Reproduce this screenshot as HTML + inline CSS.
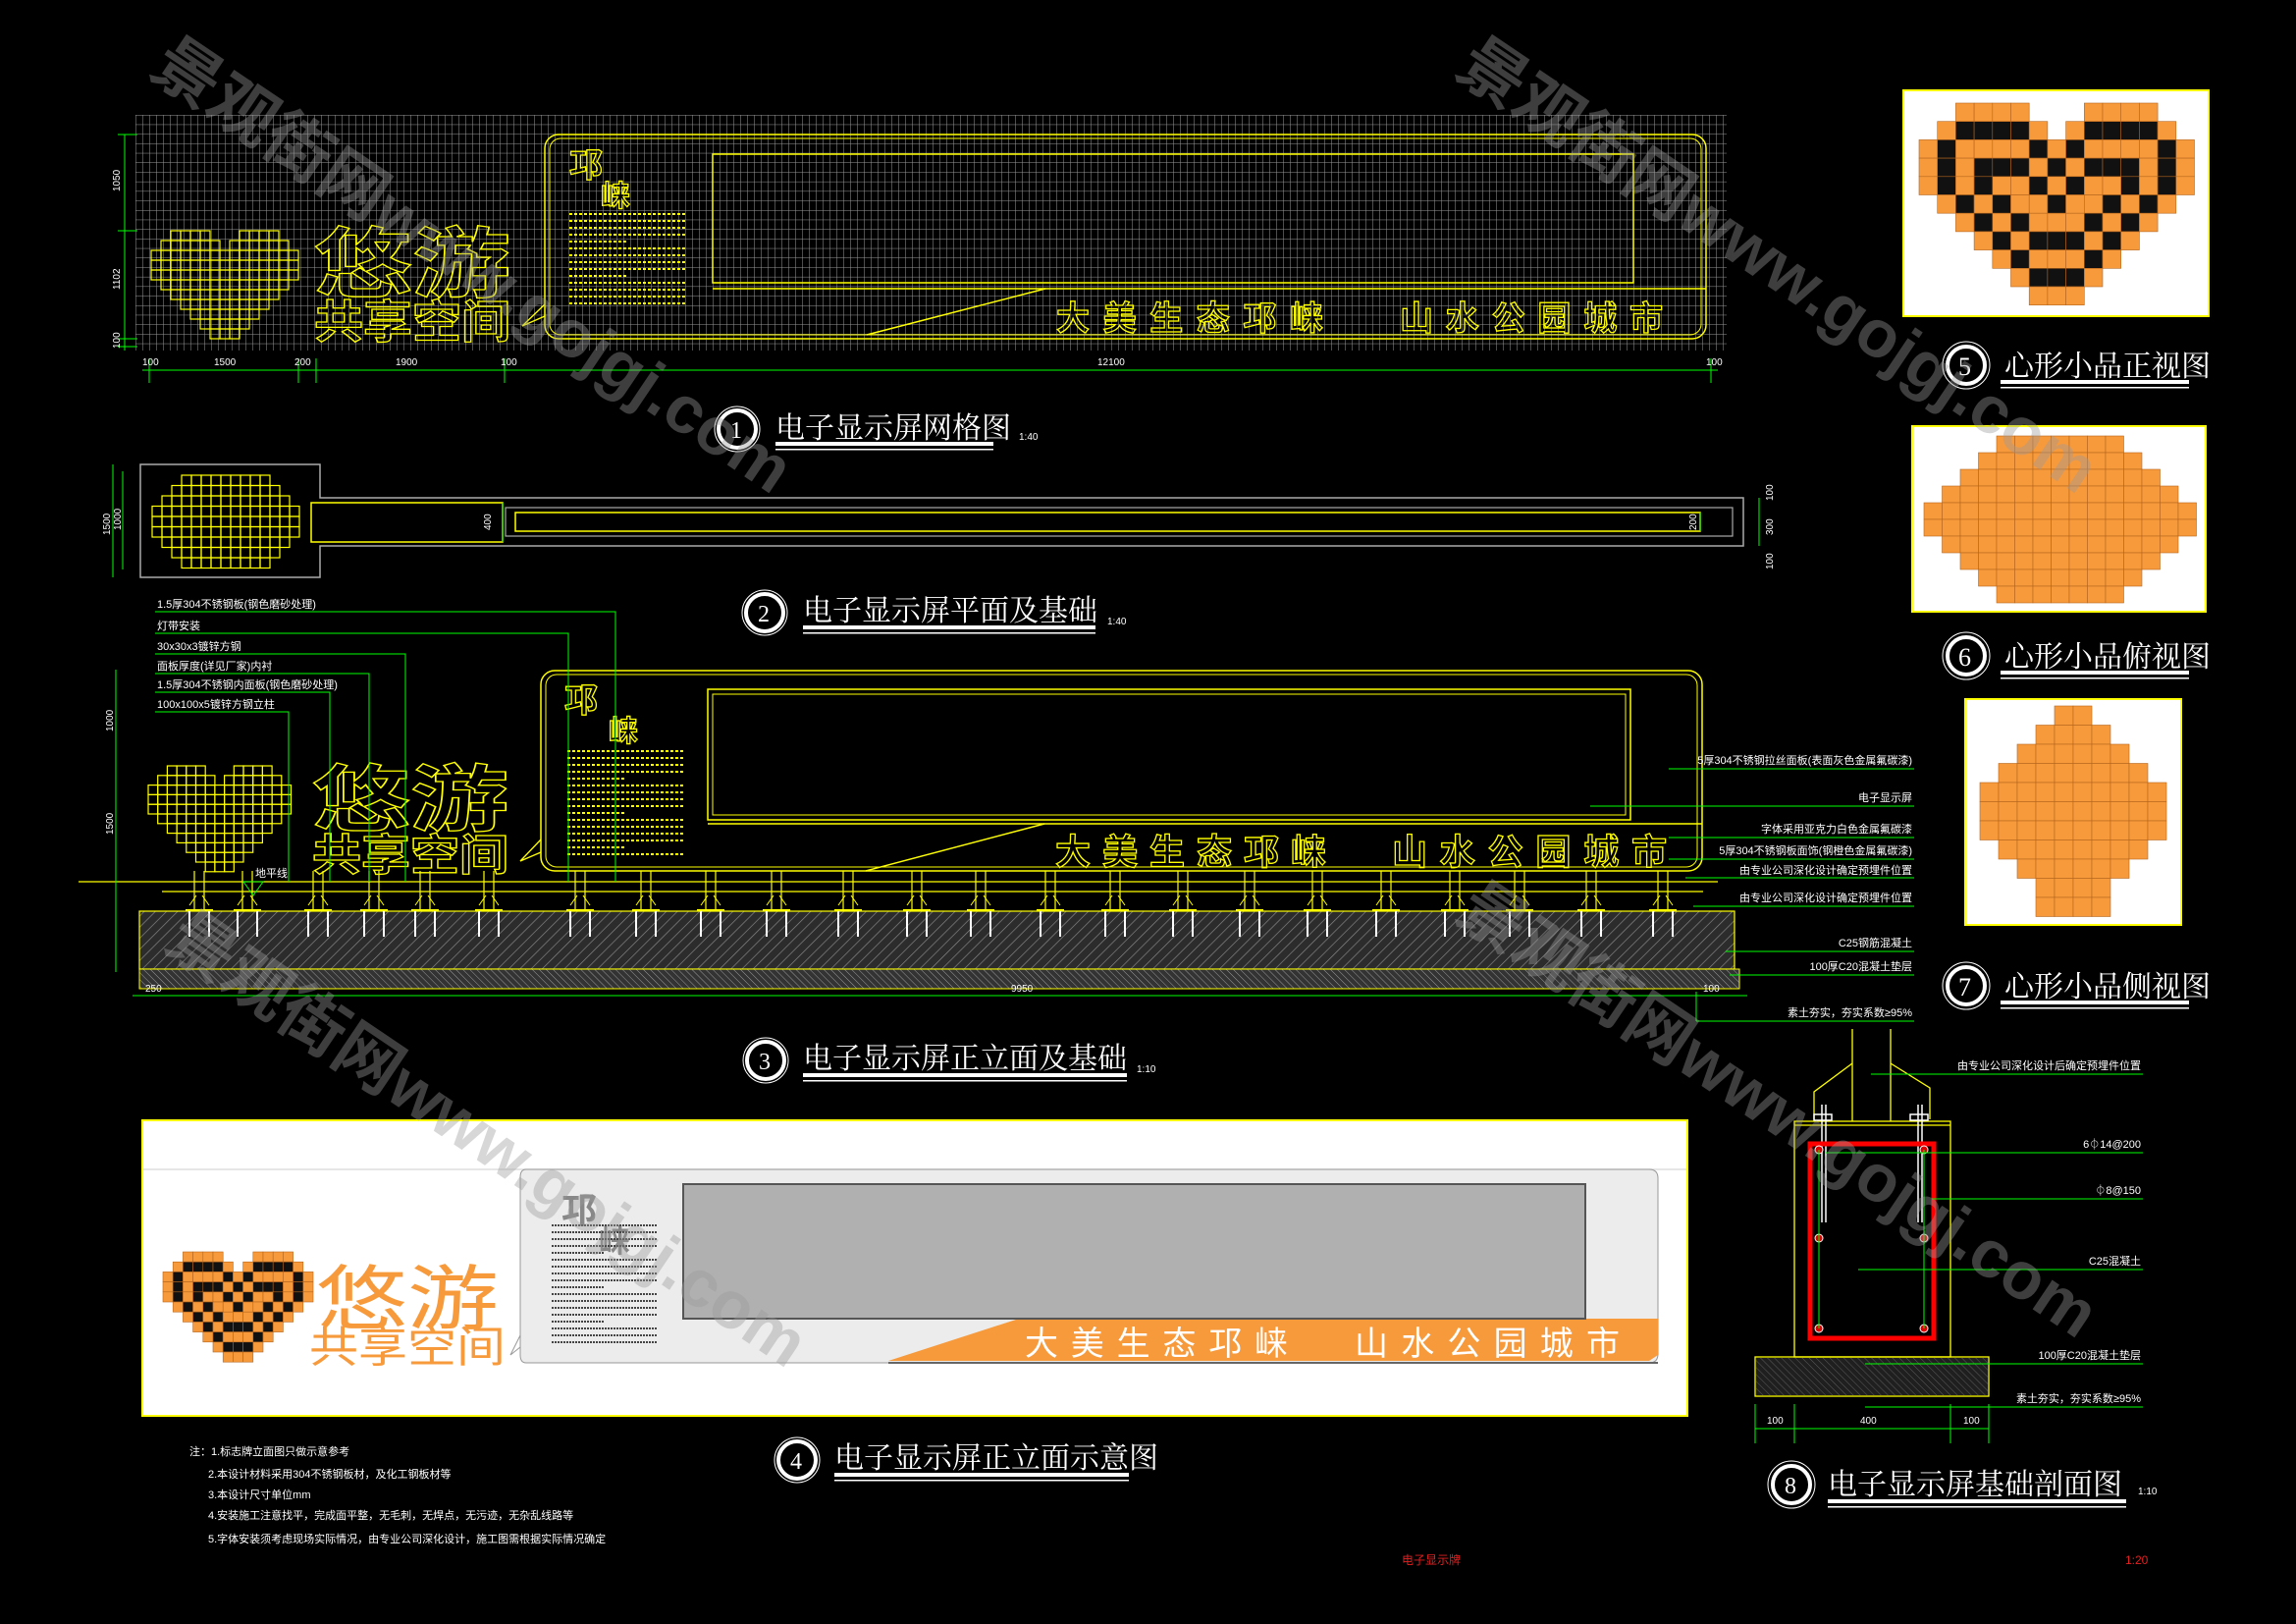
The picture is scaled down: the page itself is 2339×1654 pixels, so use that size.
<!DOCTYPE html>
<html><head><meta charset="utf-8">
<style>
html,body{margin:0;padding:0;background:#000;}
svg{display:block;}
.ot{fill:none;stroke:#ffff00;stroke-width:1.3;font-family:"Liberation Sans","Noto Sans CJK SC",sans-serif;font-weight:bold;}
.tt{fill:#fff;font-family:"Liberation Serif","Noto Serif CJK SC",serif;}
.sm{fill:#fff;font-family:"Liberation Sans","Noto Sans CJK SC",sans-serif;font-size:11px;}
.dim{fill:#fff;font-family:"Liberation Sans",sans-serif;font-size:10px;}
</style></head>
<body>
<svg id="s" width="2339" height="1654" viewBox="0 0 2339 1654" xmlns="http://www.w3.org/2000/svg">
<defs>
<pattern id="grid" width="7" height="9.7" patternUnits="userSpaceOnUse" x="138" y="117">
<path d="M0 0V9.7M0 0H7" stroke="#9a9a9a" stroke-width="1" fill="none"/>
</pattern>
<pattern id="hatch" width="8" height="8" patternUnits="userSpaceOnUse" patternTransform="rotate(45)">
<rect width="8" height="8" fill="#2c2c2c"/>
<path d="M0 0V8" stroke="#8a8a8a" stroke-width="1.3"/>
</pattern>
<pattern id="hatch2" width="5" height="5" patternUnits="userSpaceOnUse" patternTransform="rotate(-45)">
<rect width="5" height="5" fill="#333"/>
<path d="M0 0V5" stroke="#999" stroke-width="1"/>
</pattern>
</defs>
<rect width="2339" height="1654" fill="#000"/>

<!-- ===== Panel 1 grid ===== -->
<rect x="138" y="117" width="1621" height="240" fill="url(#grid)"/>
<rect x="555" y="137" width="1183" height="208" rx="14" fill="none" stroke="#ffff00" stroke-width="1.5"/>
<rect x="560" y="141" width="1173" height="200" rx="11" fill="none" stroke="#ffff00" stroke-width="1"/>
<rect x="726" y="157" width="938" height="131" fill="none" stroke="#ffff00" stroke-width="1.5"/>
<line x1="726" y1="294" x2="1738" y2="294" stroke="#ffff00" stroke-width="1.5"/>
<line x1="1065" y1="294" x2="883" y2="341" stroke="#ffff00" stroke-width="1.5"/>
<path d="M555 310 L532 332 L555 322" fill="none" stroke="#ffff00" stroke-width="1.3"/>
<text class="ot" x="580" y="180" font-size="34">邛</text><text class="ot" x="612" y="210" font-size="30">崃</text>
<g id="para1" stroke="#ffff00" stroke-width="2" stroke-dasharray="3 2"></g>
<g id="heart1"></g>
<text class="ot" x="320" y="296" font-size="78" textLength="200" lengthAdjust="spacingAndGlyphs">悠游</text>
<text class="ot" x="320" y="344" font-size="46" textLength="200" lengthAdjust="spacingAndGlyphs">共享空间</text>
<text class="ot" x="1076" y="336" font-size="34" textLength="272">大美生态邛崃</text>
<text class="ot" x="1426" y="336" font-size="34" textLength="268">山水公园城市</text>
<!-- dims -->
<line x1="127" y1="137" x2="127" y2="357" stroke="#00ff00"/>
<g stroke="#00ff00"><line x1="120" y1="137" x2="140" y2="137"/><line x1="120" y1="235" x2="140" y2="235"/><line x1="120" y1="345" x2="140" y2="345"/><line x1="120" y1="353" x2="140" y2="353"/></g>
<text class="dim" transform="translate(122,195) rotate(-90)">1050</text>
<text class="dim" transform="translate(122,295) rotate(-90)">1102</text>
<text class="dim" transform="translate(122,355) rotate(-90)">100</text>
<line x1="145" y1="377" x2="1750" y2="377" stroke="#00ff00"/>
<g stroke="#00ff00"><line x1="152" y1="365" x2="152" y2="390"/><line x1="304" y1="365" x2="304" y2="390"/><line x1="322" y1="365" x2="322" y2="390"/><line x1="514" y1="365" x2="514" y2="390"/><line x1="1743" y1="365" x2="1743" y2="390"/></g>
<g class="dim"><text x="145" y="372">100</text><text x="218" y="372">1500</text><text x="300" y="372">200</text><text x="403" y="372">1900</text><text x="510" y="372">100</text><text x="1118" y="372">12100</text><text x="1738" y="372">100</text></g>
<!-- title 1 -->
<circle cx="751" cy="437" r="19" fill="none" stroke="#fff" stroke-width="4"/><circle cx="751" cy="437" r="23" fill="none" stroke="#fff" stroke-width="1"/>
<text class="tt" x="744" y="446" font-size="24">1</text>
<text class="tt" x="790" y="446" font-size="30">电子显示屏网格图</text>
<rect x="790" y="450" width="222" height="4" fill="#fff"/><rect x="790" y="457" width="222" height="1.5" fill="#fff"/>
<text class="dim" x="1038" y="448">1:40</text>

<!-- ===== Panel 2 plan ===== -->
<path d="M143 473 H326 V507 H1776 V556 H326 V588 H143 Z" fill="none" stroke="#aaa" stroke-width="1.5"/>
<rect x="515" y="517" width="1250" height="29" fill="none" stroke="#aaa" stroke-width="1.2"/>
<rect x="525" y="522" width="1207" height="19" fill="none" stroke="#ffff00" stroke-width="1.5"/>
<rect x="317" y="512" width="195" height="40" fill="none" stroke="#ffff00" stroke-width="1.5"/>
<g id="heart2"></g>
<g stroke="#00ff00"><line x1="115" y1="473" x2="115" y2="588"/><line x1="125" y1="480" x2="125" y2="580"/><line x1="512" y1="512" x2="512" y2="552"/><line x1="1732" y1="522" x2="1732" y2="541"/><line x1="1792" y1="507" x2="1792" y2="556"/></g>
<text class="dim" transform="translate(112,545) rotate(-90)">1500</text>
<text class="dim" transform="translate(123,540) rotate(-90)">1000</text>
<text class="dim" transform="translate(500,540) rotate(-90)">400</text>
<text class="dim" transform="translate(1728,540) rotate(-90)">200</text>
<text class="dim" transform="translate(1806,510) rotate(-90)">100</text>
<text class="dim" transform="translate(1806,545) rotate(-90)">300</text>
<text class="dim" transform="translate(1806,580) rotate(-90)">100</text>
<circle cx="779" cy="624" r="19" fill="none" stroke="#fff" stroke-width="4"/><circle cx="779" cy="624" r="23" fill="none" stroke="#fff" stroke-width="1"/>
<text class="tt" x="772" y="633" font-size="24">2</text>
<text class="tt" x="818" y="632" font-size="30">电子显示屏平面及基础</text>
<rect x="818" y="637" width="298" height="4" fill="#fff"/><rect x="818" y="644" width="298" height="1.5" fill="#fff"/>
<text class="dim" x="1128" y="636">1:40</text>

<!-- ===== Panel 3 elevation ===== -->
<rect x="142" y="928" width="1625" height="59" fill="url(#hatch)" stroke="#ffff00" stroke-width="1.2"/>
<rect x="142" y="987" width="1630" height="20" fill="url(#hatch2)" stroke="#ffff00" stroke-width="1"/>
<line x1="80" y1="898" x2="1750" y2="898" stroke="#ffff00" stroke-width="1.3"/>
<line x1="165" y1="908" x2="1735" y2="908" stroke="#ffff00" stroke-width="1.3"/>
<g id="posts"></g>
<rect x="551" y="683" width="1183" height="204" rx="14" fill="none" stroke="#ffff00" stroke-width="1.5"/>
<rect x="556" y="687" width="1173" height="196" rx="11" fill="none" stroke="#ffff00" stroke-width="1"/>
<rect x="721" y="702" width="940" height="133" fill="none" stroke="#ffff00" stroke-width="1.5"/>
<rect x="726" y="707" width="930" height="123" fill="none" stroke="#ffff00" stroke-width="1"/>
<line x1="721" y1="839" x2="1734" y2="839" stroke="#ffff00" stroke-width="1.5"/>
<line x1="1064" y1="839" x2="882" y2="887" stroke="#ffff00" stroke-width="1.5"/>
<path d="M551 855 L530 877 L551 868" fill="none" stroke="#ffff00" stroke-width="1.3"/>
<text class="ot" x="575" y="725" font-size="34">邛</text><text class="ot" x="620" y="755" font-size="30">崃</text>
<g id="para3" stroke="#ffff00" stroke-width="2" stroke-dasharray="3 2"></g>
<g id="heart3"></g>
<text class="ot" x="318" y="840" font-size="74" textLength="200" lengthAdjust="spacingAndGlyphs">悠游</text>
<text class="ot" x="318" y="886" font-size="44" textLength="200" lengthAdjust="spacingAndGlyphs">共享空间</text>
<text class="ot" x="1075" y="880" font-size="36" textLength="276">大美生态邛崃</text>
<text class="ot" x="1418" y="880" font-size="36" textLength="280">山水公园城市</text>
<text class="sm" x="260" y="893" font-size="10">地平线</text>
<path d="M248 898 l10 14 l10 -14 z" fill="none" stroke="#00ff00"/>
<!-- left leaders -->
<g stroke="#00ff00" fill="none">
<path d="M158 623 H627 V898"/><path d="M158 645 H579 V898"/><path d="M158 666 H413 V898"/><path d="M158 686 H376 V898"/><path d="M158 705 H336 V898"/><path d="M158 725 H294 V898"/>
<line x1="118" y1="682" x2="118" y2="990"/>
</g>
<g class="sm" font-size="10">
<text x="160" y="619">1.5厚304不锈钢板(钢色磨砂处理)</text>
<text x="160" y="641">灯带安装</text>
<text x="160" y="662">30x30x3镀锌方钢</text>
<text x="160" y="682">面板厚度(详见厂家)内衬</text>
<text x="160" y="701">1.5厚304不锈钢内面板(钢色磨砂处理)</text>
<text x="160" y="721">100x100x5镀锌方钢立柱</text>
</g>
<text class="dim" transform="translate(115,745) rotate(-90)">1000</text>
<text class="dim" transform="translate(115,850) rotate(-90)">1500</text>
<!-- right leaders -->
<g stroke="#00ff00">
<line x1="1700" y1="783" x2="1950" y2="783"/><line x1="1620" y1="821" x2="1950" y2="821"/><line x1="1700" y1="853" x2="1950" y2="853"/><line x1="1700" y1="875" x2="1950" y2="875"/><line x1="1717" y1="894" x2="1950" y2="894"/><line x1="1725" y1="923" x2="1950" y2="923"/><line x1="1758" y1="969" x2="1950" y2="969"/><line x1="1762" y1="993" x2="1950" y2="993"/><line x1="1728" y1="1040" x2="1950" y2="1040"/><line x1="1728" y1="1010" x2="1728" y2="1040"/>
</g>
<g class="sm" font-size="11" text-anchor="end">
<text x="1948" y="778">5厚304不锈钢拉丝面板(表面灰色金属氟碳漆)</text>
<text x="1948" y="816">电子显示屏</text>
<text x="1948" y="848">字体采用亚克力白色金属氟碳漆</text>
<text x="1948" y="870">5厚304不锈钢板面饰(钢橙色金属氟碳漆)</text>
<text x="1948" y="890">由专业公司深化设计确定预埋件位置</text>
<text x="1948" y="918">由专业公司深化设计确定预埋件位置</text>
<text x="1948" y="964">C25钢筋混凝土</text>
<text x="1948" y="988">100厚C20混凝土垫层</text>
<text x="1948" y="1035">素土夯实，夯实系数≥95%</text>
</g>
<line x1="135" y1="1014" x2="1780" y2="1014" stroke="#00ff00"/>
<g class="dim"><text x="148" y="1010">250</text><text x="1030" y="1010">9950</text><text x="1735" y="1010">100</text></g>
<circle cx="780" cy="1080" r="19" fill="none" stroke="#fff" stroke-width="4"/><circle cx="780" cy="1080" r="23" fill="none" stroke="#fff" stroke-width="1"/>
<text class="tt" x="773" y="1089" font-size="24">3</text>
<text class="tt" x="818" y="1088" font-size="30">电子显示屏正立面及基础</text>
<rect x="818" y="1093" width="330" height="4" fill="#fff"/><rect x="818" y="1100" width="330" height="1.5" fill="#fff"/>
<text class="dim" x="1158" y="1092">1:10</text>

<!-- ===== Panel 4 ===== -->
<rect x="145" y="1141" width="1574" height="301" fill="#fff" stroke="#ffff00" stroke-width="2"/>
<line x1="146" y1="1191" x2="1718" y2="1191" stroke="#ddd" stroke-width="1.5"/>
<path d="M536 1191 H1680 Q1689 1191 1689 1200 V1379 Q1689 1388 1680 1388 H536 Q530 1388 530 1380 V1199 Q530 1191 536 1191 Z" fill="#ececec" stroke="#999" stroke-width="1"/>
<polygon points="1038,1343 1689,1343 1689,1380 1680,1386 905,1386" fill="#f79a3c"/>
<line x1="905" y1="1388" x2="1689" y2="1388" stroke="#666" stroke-width="2"/>
<rect x="696" y="1206" width="919" height="137" fill="#b0b0b0" stroke="#555" stroke-width="2"/>
<text x="1044" y="1380" font-size="34" fill="#fff" font-family="Liberation Sans,Noto Sans CJK SC,sans-serif" textLength="268">大美生态邛崃</text>
<text x="1380" y="1380" font-size="34" fill="#fff" font-family="Liberation Sans,Noto Sans CJK SC,sans-serif" textLength="270">山水公园城市</text>
<text x="572" y="1245" font-size="36" fill="#888" font-family="Liberation Sans,Noto Sans CJK SC,sans-serif" font-weight="bold">邛</text>
<text x="610" y="1275" font-size="32" fill="#888" font-family="Liberation Sans,Noto Sans CJK SC,sans-serif" font-weight="bold">崃</text>
<g id="para4" stroke="#444" stroke-width="2" stroke-dasharray="2 1"></g>
<g id="heart4"></g>
<text x="322" y="1348" font-size="72" fill="#f79a3c" font-family="Liberation Sans,Noto Sans CJK SC,sans-serif" textLength="186" lengthAdjust="spacingAndGlyphs">悠游</text>
<text x="315" y="1387" font-size="44" fill="#f79a3c" font-family="Liberation Sans,Noto Sans CJK SC,sans-serif" textLength="200" lengthAdjust="spacingAndGlyphs">共享空间</text>
<path d="M530 1360 L520 1380 L530 1372" fill="none" stroke="#999"/>
<!-- notes -->
<g class="sm" font-size="14">
<text x="193" y="1482">注：1.标志牌立面图只做示意参考</text>
<text x="212" y="1505">2.本设计材料采用304不锈钢板材，及化工钢板材等</text>
<text x="212" y="1526">3.本设计尺寸单位mm</text>
<text x="212" y="1547">4.安装施工注意找平，完成面平整，无毛刺，无焊点，无污迹，无杂乱线路等</text>
<text x="212" y="1571">5.字体安装须考虑现场实际情况，由专业公司深化设计，施工图需根据实际情况确定</text>
</g>
<circle cx="812" cy="1487" r="19" fill="none" stroke="#fff" stroke-width="4"/><circle cx="812" cy="1487" r="23" fill="none" stroke="#fff" stroke-width="1"/>
<text class="tt" x="805" y="1496" font-size="24">4</text>
<text class="tt" x="850" y="1495" font-size="30">电子显示屏正立面示意图</text>
<rect x="850" y="1500" width="300" height="4" fill="#fff"/><rect x="850" y="1507" width="300" height="1.5" fill="#fff"/>
<text x="1428" y="1593" font-size="12" fill="#e02020" font-family="Liberation Sans,Noto Sans CJK SC,sans-serif">电子显示牌</text>
<text x="2165" y="1593" font-size="12" fill="#e02020" font-family="Liberation Sans,sans-serif">1:20</text>

<!-- ===== Section 8 ===== -->
<g stroke="#ffff00" fill="none" stroke-width="1.3">
<line x1="1887" y1="1048" x2="1887" y2="1142"/><line x1="1926" y1="1048" x2="1926" y2="1142"/>
<path d="M1887 1083 L1848 1112 V1140"/><path d="M1926 1083 L1966 1108 V1140"/>
<rect x="1828" y="1142" width="159" height="240"/><line x1="1828" y1="1146" x2="1987" y2="1146"/>
<rect x="1788" y="1382" width="238" height="40"/>
</g>
<rect x="1789" y="1383" width="236" height="38" fill="url(#hatch2)" opacity="0.6"/>
<g stroke="#fff" stroke-width="1.5"><line x1="1856" y1="1125" x2="1856" y2="1245"/><line x1="1860" y1="1125" x2="1860" y2="1245"/><line x1="1954" y1="1125" x2="1954" y2="1245"/><line x1="1958" y1="1125" x2="1958" y2="1245"/>
<rect x="1848" y="1135" width="18" height="6" fill="none"/><rect x="1946" y="1135" width="18" height="6" fill="none"/></g>
<rect x="1844" y="1165" width="126" height="198" fill="none" stroke="#ff0000" stroke-width="5"/>
<g fill="#d00" stroke="#fff" stroke-width="1"><circle cx="1853" cy="1171" r="4"/><circle cx="1960" cy="1171" r="4"/><circle cx="1853" cy="1261" r="4"/><circle cx="1960" cy="1261" r="4"/><circle cx="1853" cy="1353" r="4"/><circle cx="1960" cy="1353" r="4"/></g>
<g stroke="#00ff00"><line x1="1853" y1="1171" x2="1853" y2="1353"/><line x1="1960" y1="1171" x2="1960" y2="1353"/>
<line x1="1906" y1="1094" x2="2183" y2="1094"/><line x1="1860" y1="1174" x2="2183" y2="1174"/><line x1="1968" y1="1221" x2="2183" y2="1221"/><line x1="1893" y1="1293" x2="2183" y2="1293"/><line x1="1900" y1="1389" x2="2183" y2="1389"/><line x1="1900" y1="1433" x2="2183" y2="1433"/>
<line x1="1788" y1="1455" x2="2026" y2="1455"/><line x1="1788" y1="1430" x2="1788" y2="1470"/><line x1="1828" y1="1430" x2="1828" y2="1470"/><line x1="1987" y1="1430" x2="1987" y2="1470"/><line x1="2026" y1="1430" x2="2026" y2="1470"/>
<line x1="1760" y1="1040" x2="1950" y2="1040"/></g>
<g class="sm" font-size="12" text-anchor="end">
<text x="2181" y="1089">由专业公司深化设计后确定预埋件位置</text>
<text x="2181" y="1169">6⏀14@200</text>
<text x="2181" y="1216">⏀8@150</text>
<text x="2181" y="1288">C25混凝土</text>
<text x="2181" y="1384">100厚C20混凝土垫层</text>
<text x="2181" y="1428">素土夯实，夯实系数≥95%</text>
</g>
<g class="dim"><text x="1800" y="1450">100</text><text x="1895" y="1450">400</text><text x="2000" y="1450">100</text></g>
<circle cx="1825" cy="1512" r="19" fill="none" stroke="#fff" stroke-width="4"/><circle cx="1825" cy="1512" r="24" fill="none" stroke="#fff" stroke-width="1"/>
<text class="tt" x="1818" y="1521" font-size="24">8</text>
<text class="tt" x="1862" y="1522" font-size="30">电子显示屏基础剖面图</text>
<rect x="1862" y="1527" width="304" height="4" fill="#fff"/><rect x="1862" y="1534" width="304" height="1.5" fill="#fff"/>
<text class="dim" x="2178" y="1522" font-size="12">1:10</text>

<!-- ===== Hearts 5,6,7 ===== -->
<rect x="1939" y="92" width="311" height="230" fill="#fff" stroke="#ffff00" stroke-width="2"/>
<g id="h5"></g>
<rect x="1948" y="434" width="299" height="189" fill="#fff" stroke="#ffff00" stroke-width="2"/>
<g id="h6"></g>
<rect x="2002" y="712" width="220" height="230" fill="#fff" stroke="#ffff00" stroke-width="2"/>
<g id="h7"></g>
<g>
<circle cx="2003" cy="372" r="19" fill="none" stroke="#fff" stroke-width="4"/><circle cx="2003" cy="372" r="24" fill="none" stroke="#fff" stroke-width="1"/>
<text class="tt" x="1995" y="382" font-size="26">5</text>
<text class="tt" x="2042" y="383" font-size="30">心形小品正视图</text>
<rect x="2038" y="387" width="192" height="4" fill="#fff"/><rect x="2038" y="394" width="192" height="1.5" fill="#fff"/>
<circle cx="2003" cy="668" r="19" fill="none" stroke="#fff" stroke-width="4"/><circle cx="2003" cy="668" r="24" fill="none" stroke="#fff" stroke-width="1"/>
<text class="tt" x="1995" y="678" font-size="26">6</text>
<text class="tt" x="2042" y="679" font-size="30">心形小品俯视图</text>
<rect x="2038" y="683" width="192" height="4" fill="#fff"/><rect x="2038" y="690" width="192" height="1.5" fill="#fff"/>
<circle cx="2003" cy="1004" r="19" fill="none" stroke="#fff" stroke-width="4"/><circle cx="2003" cy="1004" r="24" fill="none" stroke="#fff" stroke-width="1"/>
<text class="tt" x="1995" y="1014" font-size="26">7</text>
<text class="tt" x="2042" y="1015" font-size="30">心形小品侧视图</text>
<rect x="2038" y="1019" width="192" height="4" fill="#fff"/><rect x="2038" y="1026" width="192" height="1.5" fill="#fff"/>
</g>

<!-- watermarks -->
<g fill="#9a9a9a" fill-opacity="0.4" font-family="Liberation Sans,Noto Sans CJK SC,sans-serif" font-weight="bold" font-size="68">
<text transform="translate(150,75) rotate(34)">景观街网www.gojgj.com</text>
<text transform="translate(1480,75) rotate(34)">景观街网www.gojgj.com</text>
<text transform="translate(165,965) rotate(34)">景观街网www.gojgj.com</text>
<text transform="translate(1480,935) rotate(34)">景观街网www.gojgj.com</text>
</g>
</svg>
<script>
var NS="http://www.w3.org/2000/svg";
function R(g,x,y,w,h,f,s,sw){var r=document.createElementNS(NS,"rect");r.setAttribute("x",x);r.setAttribute("y",y);r.setAttribute("width",w);r.setAttribute("height",h);r.setAttribute("fill",f);if(s){r.setAttribute("stroke",s);r.setAttribute("stroke-width",sw||1);}g.appendChild(r);}
function L(g,x1,y1,x2,y2,s,sw){var l=document.createElementNS(NS,"line");l.setAttribute("x1",x1);l.setAttribute("y1",y1);l.setAttribute("x2",x2);l.setAttribute("y2",y2);l.setAttribute("stroke",s);l.setAttribute("stroke-width",sw||1);g.appendChild(l);}
var H=["..oooo...oooo..",".obbbbo.obbbbo.","obooooboboooobo","obobbbobobbbobo","obobooboboobobo",".obobooboobobo.","..obobooobobo..","...obobbbobo...","....obooobo....",".....obbbo.....","......ooo......"];
function heart(id,x0,y0,cw,ch,mode){var g=document.getElementById(id);for(var r=0;r<H.length;r++)for(var c=0;c<15;c++){var v=H[r][c];if(v==".")continue;
 if(mode=="color")R(g,x0+c*cw,y0+r*ch,cw,ch,v=="b"?"#111":"#f79a3c","#b5651d",0.6);
 else R(g,x0+c*cw,y0+r*ch,cw,ch,"none","#ffff00",1.2);}}
heart("h5",1955,105,18.7,18.7,"color");
heart("heart1",154,235,10,10,"line");
heart("heart3",151,780,9.7,9.8,"line");
heart("heart4",166,1275,10.2,10.2,"color");
(function(){var g=document.getElementById("h6");var ind=[4,3,2,1,0,0,1,2,3,4];for(var r=0;r<10;r++)for(var c=ind[r];c<15-ind[r];c++)R(g,1960+c*18.5,444+r*17,18.5,17,"#f79a3c","#b5651d",0.6);})();
(function(){var g=document.getElementById("h7");var a=[[4,5],[3,6],[2,7],[1,8],[0,9],[0,9],[0,9],[1,8],[2,7],[3,6],[3,6]];for(var r=0;r<11;r++)for(var c=a[r][0];c<=a[r][1];c++)R(g,2017+c*19,719+r*19.5,19,19.5,"#f79a3c","#b5651d",0.6);})();
(function(){var g=document.getElementById("heart2");var ind=[3,2,1,0,0,0,1,2,3];for(var r=0;r<9;r++)for(var c=ind[r];c<15-ind[r];c++)R(g,155+c*10,484+r*10.5,10,10.5,"none","#ffff00",1.2);})();
function para(id,x,y,w,n,dy){var g=document.getElementById(id);for(var i=0;i<n;i++){var ww=(i%5==4)?w*0.5:w;L(g,x,y+i*dy,x+ww,y+i*dy,g.getAttribute("stroke"),2);}}
para("para1",580,218,118,14,7);
para("para3",578,765,118,16,7);
para("para4",562,1248,108,18,7);
(function(){var g=document.getElementById("posts");var xs=[203,252,324,381,433,498,591,658,724,791,864,934,999,1070,1136,1205,1273,1342,1412,1482,1548,1621,1694];
xs.forEach(function(x){L(g,x-5,887,x-5,928,"#ffff00",1.2);L(g,x+5,887,x+5,928,"#ffff00",1.2);
L(g,x-10,922,x-3,912,"#ffff00",1);L(g,x+10,922,x+3,912,"#ffff00",1);L(g,x-14,927,x+14,927,"#ffff00",2);
L(g,x-10,928,x-10,954,"#fff",2);L(g,x+10,928,x+10,954,"#fff",2);});})();
</script>
</body></html>
